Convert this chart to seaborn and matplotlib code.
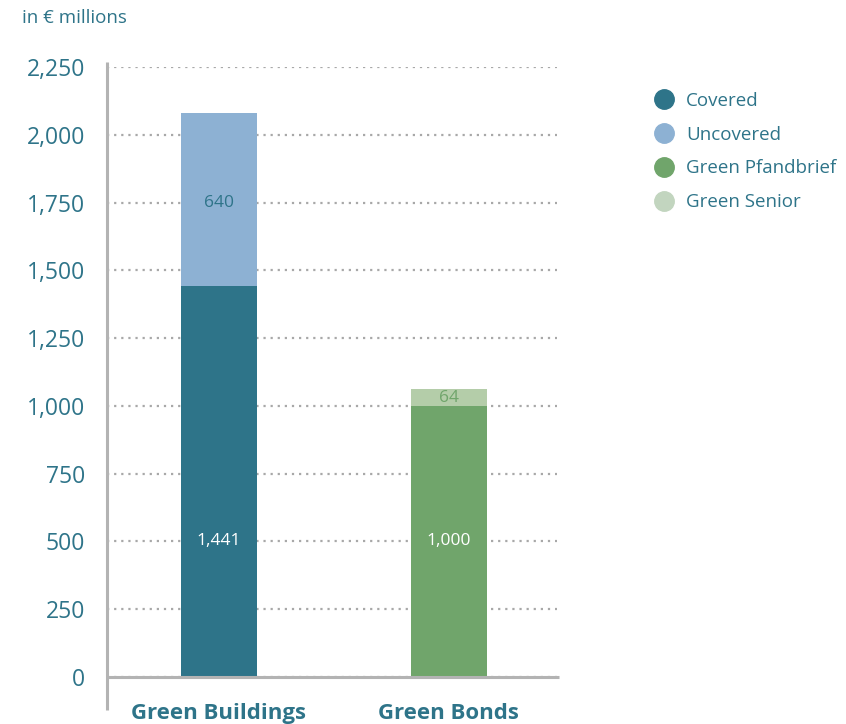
import matplotlib
matplotlib.use("Agg")
import matplotlib.pyplot as plt
from matplotlib.lines import Line2D
import seaborn as sns
import pandas as pd

# Green volumes in EUR millions
categories = ["Green Buildings", "Green Bonds"]
base_values = [1441, 1000]      # Covered / Green Pfandbrief
top_values = [640, 64]          # Uncovered / Green Senior
legend_labels = ["Covered", "Uncovered", "Green Pfandbrief", "Green Senior"]
y_ticks = [0, 250, 500, 750, 1000, 1250, 1500, 1750, 2000, 2250]

TEAL = "#2e7489"
C_COVERED = "#2e7489"
C_UNCOVERED = "#8db1d3"
C_PFAND = "#70a56b"
C_SENIOR = "#b4cda9"
C_SENIOR_DOT = "#c2d5bf"
GRID = "#a8a8a8"
AXIS = "#b3b3b3"

sns.set_theme(style="white")
plt.rcParams["font.family"] = ["Open Sans", "DejaVu Sans"]

df = pd.DataFrame({
    "category": categories,
    "base": base_values,
    "top": top_values,
})
df["total"] = df["base"] + df["top"]

fig = plt.figure(figsize=(8.46, 7.24), dpi=100)
ax = fig.add_axes([107 / 846, 1 - 677 / 724, 450 / 846, (677 - 67) / 724])

# stacked bars: full totals first, base segment drawn over them
sns.barplot(data=df, x="category", y="total", hue="category",
            palette=[C_UNCOVERED, C_SENIOR], dodge=False, width=0.33,
            legend=False, ax=ax, saturation=1, linewidth=0, zorder=3)
sns.barplot(data=df, x="category", y="base", hue="category",
            palette=[C_COVERED, C_PFAND], dodge=False, width=0.33,
            legend=False, ax=ax, saturation=1, linewidth=0, zorder=3)

ax.set_xlim(-0.487, 1.47)
ax.set_ylim(0, 2250)
ax.set_yticks(y_ticks)
ax.set_yticklabels([f"{v:,}" for v in y_ticks])
ax.set_xlabel("")
ax.set_ylabel("")

for s in ax.spines.values():
    s.set_visible(False)

ax.yaxis.grid(True, linestyle=(0, (1, 2.2)), color=GRID, linewidth=1.6, zorder=0)
ax.xaxis.grid(False)
ax.set_axisbelow(True)

ax.tick_params(axis="y", length=0, pad=16, labelsize=16.5, labelcolor=TEAL)
ax.tick_params(axis="x", length=0, pad=19, labelsize=16, labelcolor=TEAL)
for lbl in ax.get_xticklabels():
    lbl.set_fontweight("bold")

# axis lines
ax.plot([0, 0], [-0.054, 1.008], transform=ax.transAxes, color=AXIS,
        linewidth=2.2, clip_on=False, zorder=4, solid_capstyle="butt")
ax.plot([0, 1.004], [0, 0], transform=ax.transAxes, color=AXIS,
        linewidth=2.2, clip_on=False, zorder=4, solid_capstyle="butt")

# segment value labels
for i, row in df.iterrows():
    ax.text(i, min(row["base"] / 2, 500), f"{row['base']:,}", ha="center",
            va="center", color="white", fontsize=12.5, zorder=5)
    top_y = row["base"] + row["top"] * 0.48
    top_color = TEAL if i == 0 else C_PFAND
    ax.text(i, top_y, f"{row['top']:,}", ha="center", va="center",
            color=top_color, fontsize=12.5, zorder=5)

fig.text(22 / 846, 1 - 18 / 724, "in € millions", color=TEAL, fontsize=13.5,
         ha="left", va="center")

handles = [Line2D([], [], linestyle="none", marker="o", markersize=14,
                  markerfacecolor=c, markeredgecolor=c)
           for c in [C_COVERED, C_UNCOVERED, C_PFAND, C_SENIOR_DOT]]
leg = fig.legend(handles, legend_labels, loc="upper left",
                 bbox_to_anchor=(645 / 846, 1 - 82.5 / 724), frameon=False,
                 fontsize=13.5, handlelength=1.0, handletextpad=0.7,
                 labelspacing=0.84, borderpad=0)
for t in leg.get_texts():
    t.set_color(TEAL)

fig.savefig("out.png", dpi=100)
